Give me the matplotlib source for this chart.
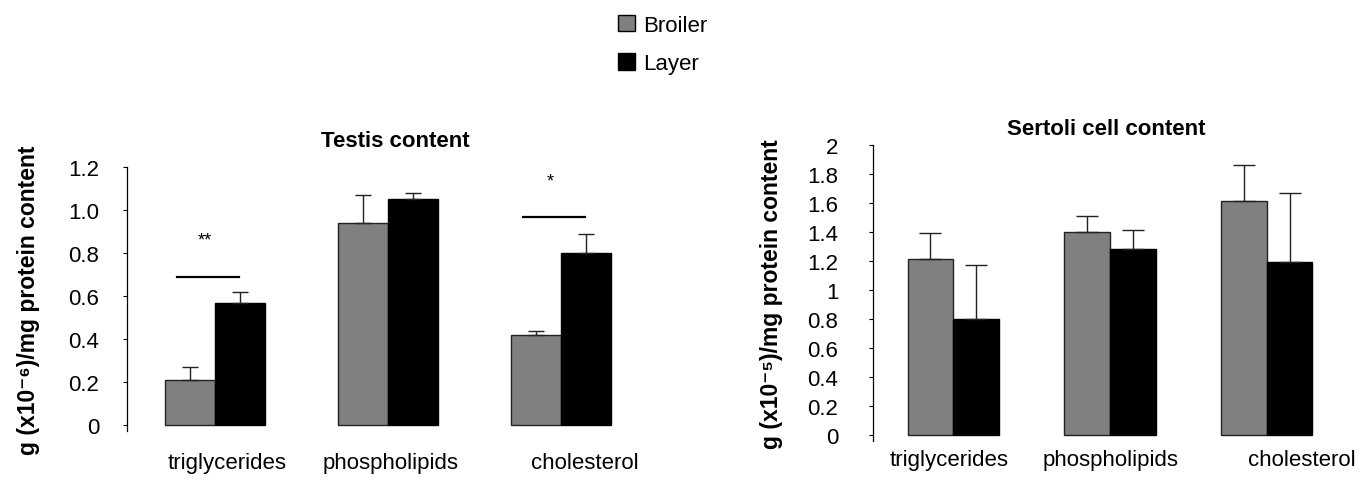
import matplotlib
matplotlib.use("Agg")
import matplotlib.pyplot as plt
import matplotlib.transforms as mtransforms
from matplotlib.patches import Patch
import numpy as np

plt.rcParams['font.family'] = ['Liberation Sans', 'DejaVu Sans']

categories = ['triglycerides', 'phospholipids', 'cholesterol']

# Testis content, g (x10^-6)/mg protein
testis_broiler = [0.21, 0.94, 0.42]
testis_broiler_err = [0.06, 0.13, 0.02]
testis_layer = [0.57, 1.05, 0.80]
testis_layer_err = [0.05, 0.03, 0.09]
testis_ticks = [0, 0.2, 0.4, 0.6, 0.8, 1.0, 1.2]
testis_ticklabels = ['0', '0.2', '0.4', '0.6', '0.8', '1.0', '1.2']

# significance bars (testis): height of line, star text
sig_levels = [0.69, None, 0.967]
sig_stars = ['**', None, '*']

# Sertoli cell content, g (x10^-5)/mg protein
sertoli_broiler = [1.21, 1.40, 1.61]
sertoli_broiler_err = [0.18, 0.11, 0.25]
sertoli_layer = [0.80, 1.28, 1.19]
sertoli_layer_err = [0.37, 0.13, 0.48]
sertoli_ticks = [0, 0.2, 0.4, 0.6, 0.8, 1.0, 1.2, 1.4, 1.6, 1.8, 2.0]
sertoli_ticklabels = ['0', '0.2', '0.4', '0.6', '0.8', '1', '1.2', '1.4', '1.6', '1.8', '2']

BROILER = '#808080'
LAYER = '#000000'
FS = 16

fig = plt.figure(figsize=(13.69, 4.81), dpi=100)
ax1 = fig.add_axes([0.0928, 0.1018, 0.3802, 0.5489])
ax2 = fig.add_axes([0.6377, 0.0811, 0.3451, 0.6154])

x = np.arange(len(categories))
w = 0.29


def draw_panel(ax, b, be, l, le, ticks, ticklabels, ymax, label_dx, label_pad, cap):
    ax.bar(x - w / 2, b, w, color=BROILER, edgecolor='#222222', linewidth=1.0)
    ax.bar(x + w / 2, l, w, color=LAYER, edgecolor='black', linewidth=1.0)
    zeros = np.zeros(len(x))
    ax.errorbar(x - w / 2, b, yerr=[zeros, be], fmt='none', ecolor='#222222',
                elinewidth=1.0, capsize=cap, capthick=1.0)
    ax.errorbar(x + w / 2, l, yerr=[zeros, le], fmt='none', ecolor='#222222',
                elinewidth=1.0, capsize=cap, capthick=1.0)
    ax.set_xlim(-0.51, 2.5)
    ax.set_ylim(-ymax * 0.022, ymax)
    ax.set_yticks(ticks)
    ax.set_yticklabels(ticklabels, fontsize=FS)
    ax.set_xticks(x)
    ax.set_xticklabels(categories, fontsize=FS)
    ax.tick_params(axis='x', length=0, pad=label_pad)
    ax.tick_params(axis='y', length=3, width=0.8, direction='out')
    for lab, dx in zip(ax.get_xticklabels(), label_dx):
        off = mtransforms.ScaledTranslation(dx / 100, 0, fig.dpi_scale_trans)
        lab.set_transform(lab.get_transform() + off)
    for s in ['top', 'right', 'bottom']:
        ax.spines[s].set_visible(False)
    ax.spines['left'].set_linewidth(0.9)


draw_panel(ax1, testis_broiler, testis_broiler_err, testis_layer, testis_layer_err,
           testis_ticks, testis_ticklabels, 1.2, [12, 2, 24], 15, 6)
ax1.tick_params(axis='y', pad=17)
ax1.set_title('Testis content', fontsize=FS, fontweight='bold', x=0.515, pad=15)
ax1.set_ylabel('g (x10⁻⁶)/mg protein content', fontsize=16.5, fontweight='bold')
ax1.yaxis.set_label_coords(-0.168, 0.5)

# significance lines
for i, (lvl, star) in enumerate(zip(sig_levels, sig_stars)):
    if lvl is None:
        continue
    ax1.plot([x[i] - 0.22, x[i] + 0.14], [lvl, lvl], color='black', linewidth=1.6)
    ax1.text(x[i] - 0.06, lvl + 0.17, star, ha='center', va='center', fontsize=13)

draw_panel(ax2, sertoli_broiler, sertoli_broiler_err, sertoli_layer, sertoli_layer_err,
           sertoli_ticks, sertoli_ticklabels, 2.0, [-4, 1, 35], 6, 8)
ax2.tick_params(axis='y', pad=22)
ax2.set_title('Sertoli cell content', fontsize=FS, fontweight='bold', x=0.493, pad=8)
ax2.set_ylabel('g (x10⁻⁵)/mg protein content', fontsize=16.5, fontweight='bold')
ax2.yaxis.set_label_coords(-0.19, 0.5)

handles = [Patch(facecolor=BROILER, edgecolor='black', label='Broiler'),
           Patch(facecolor=LAYER, edgecolor='black', label='Layer')]
fig.legend(handles=handles, loc='upper center', bbox_to_anchor=(0.484, 1.0),
           frameon=False, fontsize=FS, handlelength=0.75, handleheight=0.75,
           handletextpad=0.35, labelspacing=0.8, borderpad=0.2)

fig.savefig('out.png', dpi=100)
